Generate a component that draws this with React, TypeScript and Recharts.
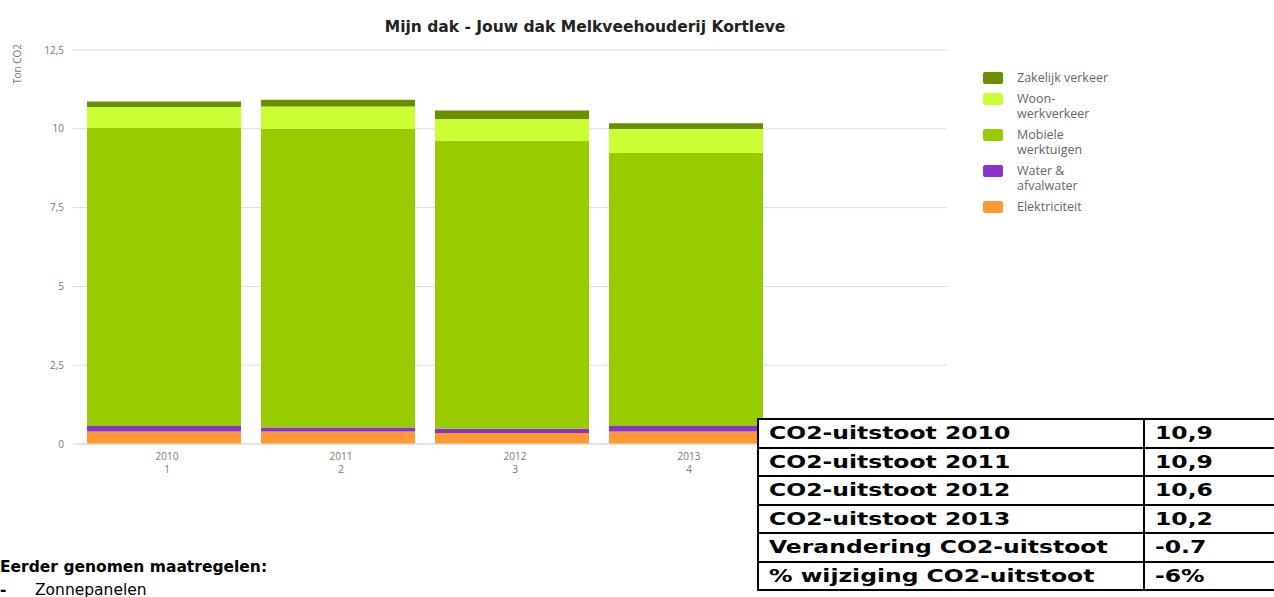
import React from 'react';
import { BarChart, Bar, XAxis, YAxis, CartesianGrid } from 'recharts';

// years on the x axis, with the running number shown under each
const years = ['2010', '2011', '2012', '2013'];
const yearIndex = ['1', '2', '3', '4'];

// Ton CO2 per source
const elektriciteit = [0.40, 0.40, 0.35, 0.40];
const waterAfvalwater = [0.17, 0.12, 0.13, 0.17];
const mobieleWerktuigen = [9.46, 9.47, 9.14, 8.67];
const woonWerkverkeer = [0.66, 0.72, 0.69, 0.75];
const zakelijkVerkeer = [0.18, 0.21, 0.27, 0.19];

const yTicks = [0, 2.5, 5, 7.5, 10, 12.5];

// summary table next to the chart
const tableLabels = [
  'CO2-uitstoot 2010',
  'CO2-uitstoot 2011',
  'CO2-uitstoot 2012',
  'CO2-uitstoot 2013',
  'Verandering CO2-uitstoot',
  '% wijziging CO2-uitstoot',
];
const tableValues = ['10,9', '10,9', '10,6', '10,2', '-0.7', '-6%'];

const series = [
  { key: 'elektriciteit', name: ['Elektriciteit'], color: '#ff9933', values: elektriciteit },
  { key: 'water', name: ['Water &', 'afvalwater'], color: '#8a33cc', values: waterAfvalwater },
  { key: 'mobiele', name: ['Mobiele', 'werktuigen'], color: '#99cc00', values: mobieleWerktuigen },
  { key: 'woon', name: ['Woon-', 'werkverkeer'], color: '#ccff33', values: woonWerkverkeer },
  { key: 'zakelijk', name: ['Zakelijk verkeer'], color: '#6b8e00', values: zakelijkVerkeer },
];

const data = years.map((year, i) => {
  const row: Record<string, string | number> = { year, idx: yearIndex[i] };
  series.forEach(s => {
    row[s.key] = s.values[i];
  });
  return row;
});

const chartFont = '"Open Sans", "DejaVu Sans", sans-serif';
const docFont = '"DejaVu Sans", Verdana, sans-serif';

const YearTick = (props: any) => {
  const { x, y, payload, index } = props;
  return (
    <g transform={`translate(${x + 3},${y})`}>
      <text x={0} y={0} dy={8} textAnchor="middle" fill="#777" fontSize={10} fontFamily={chartFont}>
        {payload.value}
      </text>
      <text x={0} y={0} dy={21} textAnchor="middle" fill="#777" fontSize={10} fontFamily={chartFont}>
        {yearIndex[index]}
      </text>
    </g>
  );
};

const Legend = () => {
  const items = [...series].reverse();
  return (
    <div style={{ position: 'absolute', left: 983, top: 70, fontFamily: chartFont, fontSize: 12.5, color: '#666' }}>
      {items.map(s => (
        <div key={s.key} style={{ display: 'flex', alignItems: 'flex-start', marginBottom: 6 }}>
          <div style={{ width: 20, height: 12, borderRadius: 2, background: s.color, marginTop: 2, flexShrink: 0 }} />
          <div style={{ marginLeft: 14, lineHeight: '15px' }}>
            {s.name.map(line => (
              <div key={line}>{line}</div>
            ))}
          </div>
        </div>
      ))}
    </div>
  );
};

// the table text in the source is drawn wide, so stretch it sideways
const Wide = ({ children }: { children: React.ReactNode }) => (
  <span style={{ display: 'inline-block', transform: 'scaleX(1.38)', transformOrigin: 'left center', whiteSpace: 'nowrap' }}>
    {children}
  </span>
);

const SummaryTable = () => (
  <table
    style={{
      position: 'absolute',
      left: 757,
      top: 418,
      width: 540,
      borderCollapse: 'collapse',
      fontFamily: docFont,
      fontWeight: 'bold',
      fontSize: 17,
      background: '#fff',
    }}
  >
    <tbody>
      {tableLabels.map((label, i) => (
        <tr key={label} style={{ height: 28.5 }}>
          <td style={{ border: '2px solid #000', padding: '0 10px', width: 364, lineHeight: '24px' }}>
            <Wide>{label}</Wide>
          </td>
          <td style={{ border: '2px solid #000', padding: '0 10px', lineHeight: '24px' }}>
            <Wide>{tableValues[i]}</Wide>
          </td>
        </tr>
      ))}
    </tbody>
  </table>
);

export default function App() {
  return (
    <div style={{ position: 'absolute', left: 0, top: 0, width: 1274, height: 597, overflow: 'hidden', background: '#fff' }}>
      <div
        style={{
          position: 'absolute',
          left: 0,
          top: 18,
          width: 1170,
          textAlign: 'center',
          fontFamily: docFont,
          fontWeight: 'bold',
          fontSize: 15.5,
          color: '#222',
        }}
      >
        Mijn dak - Jouw dak Melkveehouderij Kortleve
      </div>
      <div
        style={{
          position: 'absolute',
          left: 10,
          top: 54,
          transform: 'rotate(-90deg)',
          transformOrigin: 'left top',
          fontFamily: chartFont,
          fontSize: 10,
          color: '#777',
          whiteSpace: 'nowrap',
        }}
      >
        <span style={{ position: 'relative', left: -30 }}>Ton CO2</span>
      </div>
      <div style={{ position: 'absolute', left: 0, top: 0 }}>
        <BarChart width={960} height={490} data={data} margin={{ top: 50, right: 13, left: 0, bottom: 6 }} barCategoryGap={10}>
          <CartesianGrid vertical={false} stroke="#dcdcdc" />
          <XAxis
            dataKey="year"
            height={40}
            padding={{ left: 0, right: 174 }}
            tick={<YearTick />}
            tickLine={false}
            axisLine={{ stroke: '#dcdcdc' }}
            interval={0}
          />
          <YAxis
            width={77}
            domain={[0, 12.5]}
            ticks={yTicks}
            tickFormatter={(v: number) => String(v).replace('.', ',')}
            axisLine={false}
            tickLine={{ stroke: '#dcdcdc' }}
            tickSize={5}
            tickMargin={8}
            tick={{ fill: '#777', fontSize: 10, fontFamily: chartFont }}
          />
          {series.map(s => (
            <Bar key={s.key} dataKey={s.key} stackId="co2" fill={s.color} isAnimationActive={false} />
          ))}
        </BarChart>
      </div>
      <Legend />
      <SummaryTable />
      <div
        style={{
          position: 'absolute',
          left: 0,
          top: 558,
          fontFamily: docFont,
          fontWeight: 'bold',
          fontSize: 15.5,
          color: '#000',
        }}
      >
        Eerder genomen maatregelen:
      </div>
      <div
        style={{
          position: 'absolute',
          left: 0,
          top: 581,
          fontFamily: docFont,
          fontSize: 15.5,
          color: '#000',
          whiteSpace: 'nowrap',
        }}
      >
        <span style={{ fontWeight: 'bold', display: 'inline-block', width: 35 }}>-</span>
        Zonnepanelen
      </div>
    </div>
  );
}
